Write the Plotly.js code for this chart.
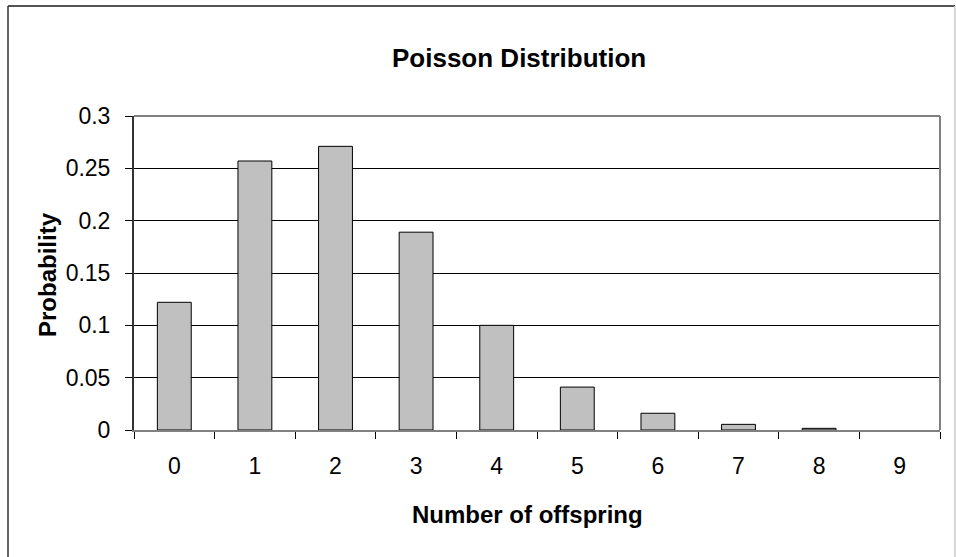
<!DOCTYPE html>
<html>
<head>
<meta charset="utf-8">
<script src="https://cdn.plot.ly/plotly-3.0.1.min.js"></script>
<style>html,body{margin:0;padding:0;background:#fff;}#chart{width:956px;height:557px;}</style>
</head>
<body>
<div id="chart"></div>
<script>
const categories = ["0","1","2","3","4","5","6","7","8","9"];
const probabilities = [0.122, 0.257, 0.271, 0.189, 0.100, 0.041, 0.016, 0.0054, 0.0016, 0];
const yTickValues = [0, 0.05, 0.1, 0.15, 0.2, 0.25, 0.3];
const yTickLabels = ["0", "0.05", "0.1", "0.15", "0.2", "0.25", "0.3"];

const FONT = "Liberation Sans, Arial, sans-serif";

const trace = {
  type: "bar",
  x: categories,
  y: probabilities,
  marker: {
    color: "#c0c0c0",
    line: {color: "#000000", width: probabilities.map(v => v > 0 ? 1 : 0)}
  },
  hoverinfo: "x+y"
};

const L = 134, R = 940, T = 116, B = 430;
const W = R - L, H = B - T;
const px = v => (v - L) / W;
const py = v => (B - v) / H;

const layout = {
  width: 956, height: 557,
  margin: {l: L, r: 956 - R, t: T, b: 557 - B, pad: 0},
  paper_bgcolor: "#ffffff",
  plot_bgcolor: "#ffffff",
  showlegend: false,
  bargap: 0.58,
  font: {family: FONT, color: "#000000", size: 23},
  xaxis: {
    type: "category",
    tickson: "boundaries",
    ticks: "outside", ticklen: 7, tickcolor: "#000000", tickwidth: 1,
    showline: true, linecolor: "#808080", linewidth: 2,
    showgrid: false, zeroline: false,
    tickfont: {family: FONT, size: 23, color: "#000000"},
    ticklabelstandoff: 14
  },
  yaxis: {
    range: [0, 0.3],
    tickvals: yTickValues, ticktext: yTickLabels,
    ticks: "outside", ticklen: 7, tickcolor: "#000000", tickwidth: 1,
    showline: true, linecolor: "#333333", linewidth: 2,
    showgrid: true, gridcolor: "#000000", gridwidth: 1,
    zeroline: false,
    tickfont: {family: FONT, size: 23, color: "#000000"},
    ticklabelstandoff: 10
  },
  shapes: [
    {type: "line", xref: "paper", yref: "paper", x0: 0, x1: 1, y0: 1, y1: 1, line: {color: "#808080", width: 2}, layer: "above"},
    {type: "line", xref: "paper", yref: "paper", x0: 1, x1: 1, y0: 0, y1: 1, line: {color: "#808080", width: 2}, layer: "above"},
    {type: "line", xref: "paper", yref: "paper", x0: px(8), x1: px(955), y0: py(6), y1: py(6), line: {color: "#555555", width: 2}, layer: "above"},
    {type: "line", xref: "paper", yref: "paper", x0: px(8), x1: px(8), y0: py(570), y1: py(6), line: {color: "#333333", width: 1.5}, layer: "above"},
    {type: "line", xref: "paper", yref: "paper", x0: px(955), x1: px(955), y0: py(570), y1: py(6), line: {color: "#cccccc", width: 1.5}, layer: "above"}
  ],
  annotations: [
    {text: "<b>Poisson Distribution</b>", xref: "paper", yref: "paper",
     x: px(519), y: py(58), xanchor: "center", yanchor: "middle",
     showarrow: false, font: {family: FONT, size: 26, color: "#000000"}},
    {text: "<b>Number of offspring</b>", xref: "paper", yref: "paper",
     x: px(527), y: py(514), xanchor: "center", yanchor: "middle",
     showarrow: false, font: {family: FONT, size: 24, color: "#000000"}},
    {text: "<b>Probability</b>", xref: "paper", yref: "paper",
     x: px(47), y: py(275), xanchor: "center", yanchor: "middle",
     textangle: -90, showarrow: false, font: {family: FONT, size: 24, color: "#000000"}}
  ]
};

Plotly.newPlot("chart", [trace], layout, {displayModeBar: false, staticPlot: true});
</script>
</body>
</html>
